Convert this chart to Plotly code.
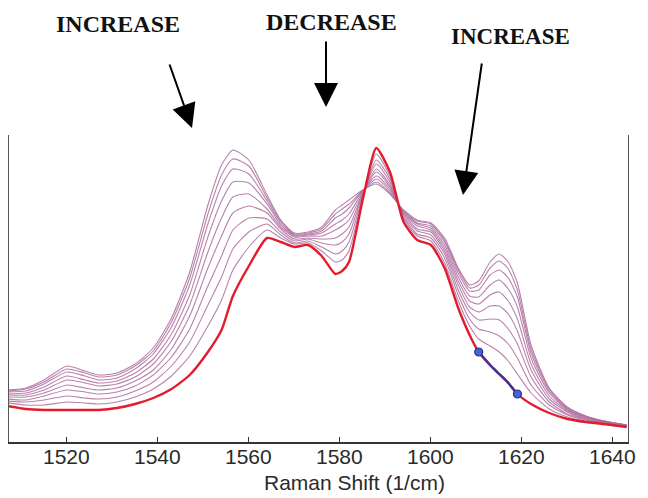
import plotly.graph_objects as go

# Raman shift axis (1/cm) shared by every spectrum
raman_shift = [1507, 1511, 1515, 1520, 1524, 1527, 1531, 1535, 1539, 1543,
               1547, 1551, 1554, 1556.5, 1560, 1564, 1567, 1570, 1573, 1576,
               1579, 1580.5, 1582, 1585, 1588, 1591, 1594, 1597, 1600, 1603, 1606,
               1608.5, 1610.5, 1613, 1615, 1617, 1619, 1622, 1626, 1630, 1634,
               1638, 1643]

# Intensities (a.u.) of the time series; spectrum_0 is the starting spectrum
spectrum_0 = [36, 33, 32, 32, 32, 32, 34, 38, 44, 53, 67, 90, 112, 146, 176, 204, 200, 195, 197, 186,
              168, 171, 180, 242, 294, 270, 220, 202, 197, 174, 134, 107, 90, 77, 68, 59, 48, 38, 29, 23, 20, 18, 15]
spectrum_1 = [39, 37, 37, 40, 39, 38, 40, 45, 53, 66, 86, 116, 142, 172, 195, 212, 204, 198, 199, 191,
              180, 182, 191, 244, 288, 266, 222, 206, 201, 179, 141, 116, 103, 96, 90, 81, 68, 49, 33, 25, 21, 19, 15]
spectrum_2 = [41, 40, 42, 46, 44, 43, 45, 51, 60, 76, 100, 137, 165, 193, 210, 218, 207, 199, 201, 195,
              188, 191, 200, 245, 282, 263, 224, 208, 204, 184, 147, 123, 113, 110, 106, 98, 84, 57, 37, 27, 22, 19, 16]
spectrum_3 = [43, 42, 46, 52, 50, 48, 50, 56, 67, 85, 113, 156, 186, 212, 224, 223, 210, 201, 203, 199,
              197, 200, 208, 247, 278, 260, 225, 211, 207, 188, 152, 130, 122, 123, 122, 113, 98, 65, 40, 28, 23, 19, 16]
spectrum_4 = [45, 45, 49, 57, 54, 52, 54, 61, 72, 93, 126, 174, 206, 229, 236, 229, 213, 203, 204, 203,
              204, 208, 215, 248, 273, 257, 227, 213, 210, 191, 157, 135, 130, 136, 136, 128, 111, 72, 43, 30, 23, 20, 16]
spectrum_5 = [47, 47, 52, 62, 59, 56, 58, 65, 78, 101, 137, 190, 224, 245, 248, 233, 215, 205, 206, 206,
              212, 216, 222, 249, 270, 255, 228, 216, 212, 194, 161, 141, 138, 147, 150, 141, 123, 78, 46, 31, 24, 20, 16]
spectrum_6 = [48, 49, 55, 66, 62, 59, 61, 69, 83, 108, 147, 205, 241, 260, 259, 238, 217, 206, 207, 209,
              218, 222, 228, 250, 266, 253, 229, 218, 214, 197, 165, 146, 145, 157, 162, 153, 135, 84, 49, 32, 25, 20, 17]
spectrum_7 = [50, 51, 58, 70, 66, 62, 64, 73, 88, 115, 157, 218, 256, 273, 268, 241, 219, 207, 208, 211,
              224, 228, 234, 251, 263, 251, 230, 219, 216, 200, 169, 151, 152, 167, 172, 164, 145, 89, 51, 33, 25, 21, 17]
spectrum_8 = [51, 53, 60, 73, 69, 65, 67, 76, 91, 120, 164, 228, 267, 283, 276, 244, 221, 208, 209, 213,
              228, 233, 238, 251, 260, 249, 231, 221, 218, 202, 172, 154, 157, 174, 181, 173, 152, 93, 53, 34, 26, 21, 17]
spectrum_9 = [52, 54, 62, 76, 71, 67, 69, 78, 94, 124, 170, 237, 277, 292, 282, 247, 222, 209, 210, 215,
              232, 237, 242, 252, 258, 248, 232, 222, 219, 204, 174, 157, 161, 180, 188, 180, 159, 97, 54, 35, 26, 21, 17]

later_spectra = [spectrum_1, spectrum_2, spectrum_3, spectrum_4, spectrum_5,
                 spectrum_6, spectrum_7, spectrum_8, spectrum_9]

# Interval of the starting spectrum that is highlighted in blue
highlight_window = (1610.5, 1619)

tick_values = [1520, 1540, 1560, 1580, 1600, 1620, 1640]
tick_labels = ["1520", "1540", "1560", "1580", "1600", "1620", "1640"]
x_title = "Raman Shift (1/cm)"
labels = [("INCREASE", 118, 24, 24), ("DECREASE", 331, 22, 24), ("INCREASE", 510, 36, 23)]
# arrow tip (px) and tail offset (px)
arrows = [((192, 128), (-23, -65)), ((326, 107), (0, -67)), ((463, 195), (19, -133))]

W, H = 648, 498
L, R, T, B = 9, 20, 135, 56
pw, ph = W - L - R, H - T - B
axis_font = dict(family="Liberation Sans, Arial, sans-serif", size=21, color="#2a2a2a")
SMOOTH = 0.6


def px_to_paper(px, py):
    return (px - L) / pw, (H - B - py) / ph


fig = go.Figure()

for spec in later_spectra:
    fig.add_trace(go.Scatter(
        x=raman_shift, y=spec, mode="lines",
        line=dict(color="rgba(172,108,156,0.85)", width=1.1, shape="spline", smoothing=SMOOTH),
        hoverinfo="skip", showlegend=False))

fig.add_trace(go.Scatter(
    x=raman_shift, y=spectrum_0, mode="lines",
    line=dict(color="rgb(226,28,44)", width=2.4, shape="spline", smoothing=SMOOTH),
    showlegend=False))

lo, hi = highlight_window
sel = [i for i, v in enumerate(raman_shift) if lo <= v <= hi]
seg_x = [raman_shift[i] for i in sel]
seg_y = [spectrum_0[i] for i in sel]
fig.add_trace(go.Scatter(
    x=seg_x, y=seg_y, mode="lines",
    line=dict(color="rgb(70,50,150)", width=2.4, shape="spline", smoothing=SMOOTH),
    showlegend=False))
fig.add_trace(go.Scatter(
    x=[seg_x[0], seg_x[-1]], y=[seg_y[0], seg_y[-1]], mode="markers",
    marker=dict(size=8, color="rgb(70,100,210)", line=dict(color="rgb(40,50,150)", width=1.2)),
    showlegend=False))

annotations = []
for text, cx, cy, size in labels:
    xp, yp = px_to_paper(cx, cy)
    annotations.append(dict(
        text=f"<b>{text}</b>", x=xp, y=yp, xref="paper", yref="paper",
        xanchor="center", yanchor="middle", showarrow=False,
        font=dict(family="Liberation Serif, Times New Roman, serif", size=size, color="#111")))

for (tx, ty), (ax, ay) in arrows:
    xp, yp = px_to_paper(tx, ty)
    annotations.append(dict(
        text="", x=xp, y=yp, xref="paper", yref="paper", ax=ax, ay=ay,
        showarrow=True, arrowhead=2, arrowsize=2.4, arrowwidth=2, arrowcolor="#000",
        standoff=0))

# tick labels sit close under the axis line
_, tick_y = px_to_paper(0, 456)
for tv, tl in zip(tick_values, tick_labels):
    annotations.append(dict(
        text=tl, x=tv, y=tick_y, xref="x", yref="paper",
        xanchor="center", yanchor="middle", showarrow=False, font=axis_font))

xp, yp = px_to_paper(354, 482)
annotations.append(dict(
    text=x_title, x=xp, y=yp, xref="paper", yref="paper",
    xanchor="center", yanchor="middle", showarrow=False, font=axis_font))

fig.update_layout(
    width=W, height=H,
    margin=dict(l=L, r=R, t=T, b=B),
    paper_bgcolor="white", plot_bgcolor="white",
    annotations=annotations,
    xaxis=dict(range=[1507.3, 1643.3], showline=True, linecolor="#333", linewidth=1.5,
               ticks="inside", ticklen=5, tickcolor="#333", tickwidth=1,
               tickvals=tick_values, showticklabels=False, showgrid=False, zeroline=False),
    yaxis=dict(range=[0, 307], showline=True, mirror=True, linecolor="#555", linewidth=1.2,
               ticks="", showticklabels=False, showgrid=False, zeroline=False),
)

fig.write_html("out.html")
